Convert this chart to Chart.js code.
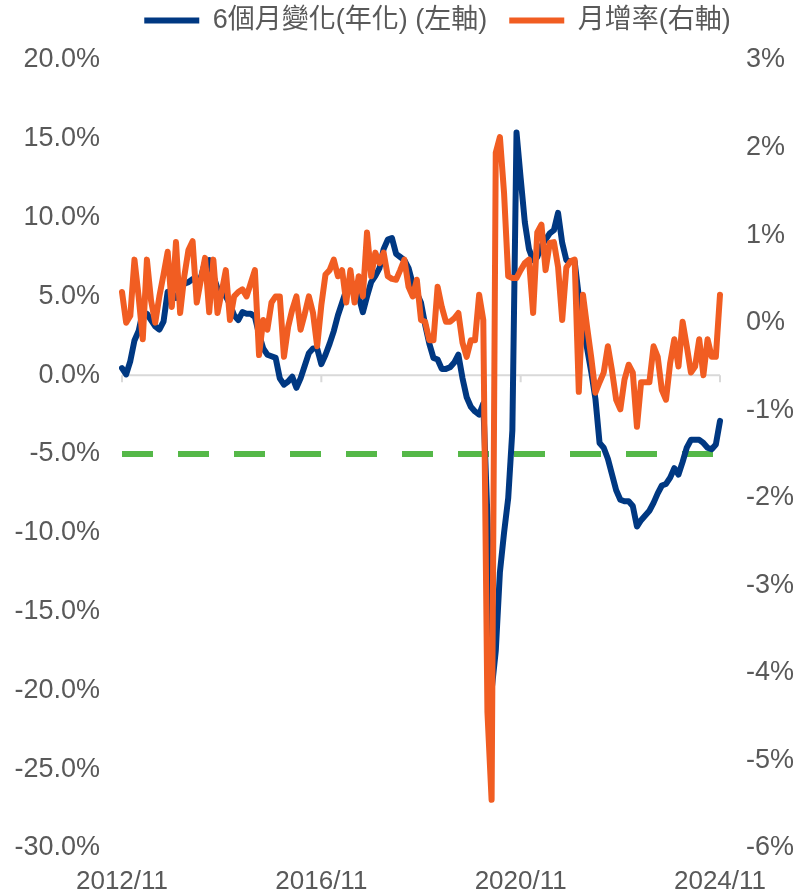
<!DOCTYPE html>
<html>
<head>
<meta charset="utf-8">
<script src="https://cdn.jsdelivr.net/npm/chart.js@4.4.1/dist/chart.umd.min.js"></script>
<style>
  html, body { margin: 0; padding: 0; background: #fff; }
  #wrap { width: 795px; height: 892px; }
</style>
</head>
<body>
<div id="wrap"><canvas id="myChart" width="795" height="892"></canvas></div>
<script>
// monthly categories, 2012/11 .. 2024/11
function monthLabels() {
  let out = []
  let y = 2012
  let m = 11
  for (let i = 0; i < 145; i++) {
    out.push(y + '/' + (m < 10 ? '0' + m : m))
    m++
    if (m > 12) { m = 1; y++ }
  }
  return out
}
const months = monthLabels()
const shownDates = ['2012/11', '2016/11', '2020/11', '2024/11']

// 6個月變化(年化), left axis, %
const sixMonthAnnualized = [
  0.45, 0.05, 0.9, 2.2, 2.8, 4.0, 3.9, 3.5, 3.1, 2.9,
  3.4, 5.3, 5.0, 4.9, 5.4, 5.8, 5.9, 6.1, 6.1, 6.2,
  7.2, 7.3, 6.3, 5.5, 5.2, 5.0, 4.5, 3.8, 3.5, 4.0,
  3.9, 3.9, 3.7, 2.6, 1.7, 1.3, 1.2, 1.1, -0.2, -0.6,
  -0.4, -0.1, -0.8, -0.2, 0.6, 1.4, 1.7, 1.7, 0.7, 1.3,
  2.0, 2.8, 3.8, 4.6, 5.4, 5.6, 5.5, 5.0, 4.0, 5.0,
  5.9, 6.3, 6.8, 8.0, 8.6, 8.7, 7.7, 7.5, 7.3, 6.8,
  5.8, 5.2, 4.6, 3.2, 2.0, 1.1, 1.0, 0.4, 0.4, 0.5,
  0.8, 1.3, -0.2, -1.4, -2.0, -2.3, -2.5, -1.8, -9.0, -20.0,
  -17.5, -12.5, -10.0, -7.8, -3.5, 15.4, 12.5, 9.7, 8.0, 7.3,
  7.5, 8.2, 8.6, 9.0, 9.2, 10.3, 8.4, 7.3, 7.2, 7.2,
  5.0, 3.0, 1.7, 0.2, -1.5, -4.3, -4.6, -5.3, -6.3, -7.3,
  -7.9, -8.0, -8.0, -8.3, -9.6, -9.2, -8.9, -8.6, -8.1, -7.5,
  -7.0, -6.9, -6.5, -5.9, -6.3, -5.5, -4.6, -4.1, -4.1, -4.1,
  -4.3, -4.6, -4.7, -4.4, -2.9
]

// 月增率, right axis, %
const monthlyChange = [
  0.35, 0.0, 0.08, 0.72, 0.3, -0.19, 0.72, 0.25, 0.0, 0.3,
  0.55, 0.81, 0.18, 0.92, 0.11, 0.53, 0.83, 0.93, 0.23, 0.49,
  0.74, 0.12, 0.72, 0.11, 0.35, 0.6, 0.03, 0.3, 0.35, 0.38,
  0.3, 0.45, 0.6, -0.37, 0.03, -0.08, 0.23, 0.3, 0.3, -0.39,
  -0.05, 0.15, 0.3, -0.08, 0.1, 0.3, 0.11, -0.27, 0.2, 0.55,
  0.6, 0.72, 0.53, 0.6, 0.23, 0.6, 0.23, 0.53, 0.3, 1.03,
  0.53, 0.8, 0.68, 0.8, 0.53, 0.5, 0.49, 0.6, 0.72, 0.41,
  0.3, 0.49, 0.03, 0.01, -0.2, -0.2, 0.41, 0.18, 0.01, 0.01,
  0.05, 0.11, -0.23, -0.39, -0.2, -0.2, 0.32, 0.03, -4.45, -5.45,
  1.94, 2.12, 1.48, 0.53, 0.51, 0.51, 0.6, 0.68, 0.72, 0.11,
  1.03, 1.12, 0.6, 0.91, 0.92, 0.64, 0.03, 0.63, 0.7, 0.72,
  -0.79, 0.32, -0.05, -0.4, -0.8, -0.68, -0.57, -0.27, -0.55, -0.88,
  -0.99, -0.65, -0.48, -0.57, -1.19, -0.68, -0.68, -0.68, -0.27, -0.39,
  -0.77, -0.88, -0.46, -0.19, -0.5, 0.01, -0.27, -0.57, -0.5, -0.19,
  -0.6, -0.19, -0.39, -0.39, 0.32
]

const thresholdLevel = -5
const thresholdLine = [
  { x: months[0], y: thresholdLevel },
  { x: months[months.length - 1], y: thresholdLevel },
]

const textColor = '#595959'
const fontFamily = "'Liberation Sans', Arial, 'Noto Sans CJK TC', sans-serif"

// grey 0% line with the yearly tick marks
const zeroLine = {
  id: 'zeroLine',
  beforeDatasetsDraw(chart) {
    const { ctx, scales: { x, y } } = chart
    const yz = y.getPixelForValue(0)
    ctx.save()
    ctx.strokeStyle = '#d9d9d9'
    ctx.lineWidth = 2
    ctx.beginPath()
    ctx.moveTo(x.left, yz)
    ctx.lineTo(x.right, yz)
    shownDates.forEach(function (d) {
      const px = x.getPixelForValue(months.indexOf(d))
      ctx.moveTo(px, yz)
      ctx.lineTo(px, yz + 7)
    })
    ctx.stroke()
    ctx.restore()
  },
}

// fixed legend band above the plot, legend row nudged right like the original
const legendBox = {
  id: 'legendBox',
  beforeInit(chart) {
    const fit = chart.legend.fit
    chart.legend.fit = function () {
      fit.bind(chart.legend)()
      this.height = 60
    }
  },
  afterLayout(chart) {
    chart.legend.left += 40
    chart.legend.right += 40
  },
}

let data = {
  labels: months,
  datasets: [
    {
      label: '6個月變化(年化) (左軸)  ',
      data: sixMonthAnnualized,
      borderColor: '#003882',
      backgroundColor: '#003882',
      borderWidth: 6,
      pointRadius: 0,
      tension: 0,
      borderJoinStyle: 'round',
      borderCapStyle: 'round',
      yAxisID: 'y',
      order: 2,
      fill: false,
    },
    {
      label: '月增率(右軸)',
      data: monthlyChange,
      borderColor: '#f15d22',
      backgroundColor: '#f15d22',
      borderWidth: 6,
      pointRadius: 0,
      tension: 0,
      borderJoinStyle: 'round',
      borderCapStyle: 'round',
      yAxisID: 'y1',
      order: 1,
      fill: false,
    },
    {
      label: 'threshold',
      data: thresholdLine,
      borderColor: '#55b848',
      borderWidth: 6,
      borderDash: [31, 25],
      pointRadius: 0,
      yAxisID: 'y',
      order: 3,
      fill: false,
    },
  ],
}

let config = {
  type: 'line',
  data: data,
  plugins: [zeroLine, legendBox],
  options: {
    responsive: false,
    animation: false,
    layout: { padding: 0 },
    scales: {
      x: {
        type: 'category',
        offset: false,
        grid: { display: false, drawTicks: false },
        border: { display: false },
        ticks: {
          autoSkip: false,
          maxRotation: 0,
          padding: 18,
          color: textColor,
          font: { family: fontFamily, size: 26 },
          callback: function (value, index) {
            const lab = months[index]
            return shownDates.includes(lab) ? lab : null
          },
        },
        afterFit: function (scale) { scale.height = 44 },
      },
      y: {
        position: 'left',
        min: -30,
        max: 20,
        grid: { display: false, drawTicks: false },
        border: { display: false },
        ticks: {
          stepSize: 5,
          padding: 22,
          color: textColor,
          font: { family: fontFamily, size: 27 },
          callback: function (v) { return v.toFixed(1) + '%' },
        },
        afterFit: function (scale) { scale.width = 122 },
      },
      y1: {
        position: 'right',
        min: -6,
        max: 3,
        grid: { display: false, drawTicks: false },
        border: { display: false },
        ticks: {
          stepSize: 1,
          padding: 26,
          color: textColor,
          font: { family: fontFamily, size: 27 },
          callback: function (v) { return v + '%' },
        },
        afterFit: function (scale) { scale.width = 75 },
      },
    },
    plugins: {
      tooltip: { enabled: false },
      legend: {
        position: 'top',
        align: 'center',
        labels: {
          boxWidth: 55,
          boxHeight: 6,
          padding: 7,
          color: textColor,
          font: { family: fontFamily, size: 27 },
          sort: function (a, b) { return a.datasetIndex - b.datasetIndex },
          generateLabels: function (chart) {
            const items = Chart.defaults.plugins.legend.labels.generateLabels(chart)
            return items
              .filter(function (it) { return it.datasetIndex < 2 })
              .map(function (it) {
                it.lineWidth = 0
                it.fillStyle = it.strokeStyle
                it.lineDash = []
                return it
              })
          },
        },
      },
    },
  },
}

let chart = new Chart(document.getElementById('myChart'), config)
</script>
</body>
</html>
